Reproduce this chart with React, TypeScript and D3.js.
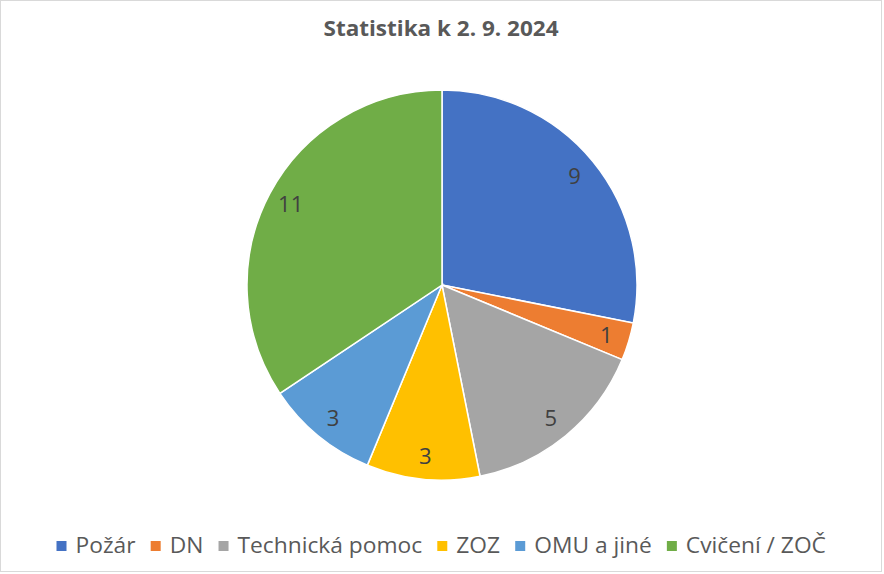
import React, { useEffect, useRef } from "react";
import * as d3 from "d3";

const categories = ["Požár", "DN", "Technická pomoc", "ZOZ", "OMU a jiné", "Cvičení / ZOČ"];
const values = [9, 1, 5, 3, 3, 11];
const colors = ["#4472C4", "#ED7D31", "#A5A5A5", "#FFC000", "#5B9BD5", "#70AD47"];
const title = "Statistika k 2. 9. 2024";

const W = 884;
const H = 574;
const FONT = "'Open Sans', 'Noto Sans', sans-serif";

export default function App() {
  const ref = useRef<SVGSVGElement | null>(null);

  useEffect(() => {
    const svg = d3.select(ref.current);
    svg.selectAll("*").remove();

    svg.append("rect").attr("x", 0.5).attr("y", 0.5).attr("width", 881).attr("height", 571)
      .attr("fill", "#fff").attr("stroke", "#d9d9d9");

    svg.append("text").attr("x", 441).attr("y", 36).attr("text-anchor", "middle")
      .attr("font-family", FONT).attr("font-weight", "bold").attr("font-size", 22)
      .attr("fill", "#595959").attr("textLength", 235).attr("lengthAdjust", "spacingAndGlyphs")
      .text(title);

    const cx = 442, cy = 285, R = 195;
    const pie = d3.pie<number>().sort(null).value(d => d);
    const arcs = pie(values);
    const arc = d3.arc<d3.PieArcDatum<number>>().innerRadius(0).outerRadius(R);
    const labelArc = d3.arc<d3.PieArcDatum<number>>().innerRadius(R * 0.88).outerRadius(R * 0.88);

    const g = svg.append("g").attr("transform", `translate(${cx},${cy})`);
    g.selectAll("path").data(arcs).join("path")
      .attr("d", arc as any)
      .attr("fill", (_, i) => colors[i])
      .attr("stroke", "#fff").attr("stroke-width", 1.5);

    g.selectAll("text.lbl").data(arcs).join("text")
      .attr("class", "lbl")
      .attr("transform", d => `translate(${labelArc.centroid(d)})`)
      .attr("text-anchor", "middle").attr("dy", "0.36em")
      .attr("font-family", FONT).attr("font-size", 22).attr("fill", "#404040")
      .text(d => String(d.data));

    // legend
    const lg = svg.append("g");
    const fs = 21;
    const items = categories.map((c, i) => {
      const t = lg.append("text").attr("font-family", FONT).attr("font-size", fs)
        .attr("fill", "#595959").attr("y", 553).text(c);
      const w = (t.node() as SVGTextElement).getComputedTextLength();
      return { t, w, i };
    });
    const marker = 10, gapM = 9, gapItem = 14;
    const natural = items.reduce((s, it) => s + marker + gapM + it.w, 0) + gapItem * (items.length - 1);
    const target = 779;
    const k = target / natural;
    let x = 446 - target / 2;
    items.forEach(it => {
      const w = it.w * k;
      lg.append("rect").attr("x", x).attr("y", 541).attr("width", marker).attr("height", marker)
        .attr("fill", colors[it.i]);
      it.t.attr("x", x + marker + gapM).attr("textLength", w).attr("lengthAdjust", "spacingAndGlyphs");
      x += marker + gapM + w + gapItem * k;
    });
  }, []);

  return <svg ref={ref} width={W} height={H} style={{ display: "block", position: "absolute", left: 0, top: 0 }} />;
}
